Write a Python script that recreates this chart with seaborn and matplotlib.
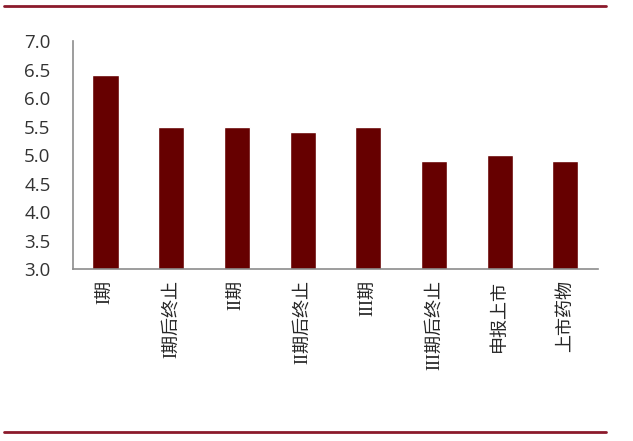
import matplotlib.pyplot as plt
import matplotlib.lines as mlines
import seaborn as sns
import pandas as pd

# Chart data
stages = ['I期', 'I期后终止', 'II期', 'II期后终止', 'III期', 'III期后终止', '申报上市', '上市药物']
values = [6.4, 5.5, 5.5, 5.4, 5.5, 4.9, 5.0, 4.9]
y_ticks = [3.0, 3.5, 4.0, 4.5, 5.0, 5.5, 6.0, 6.5, 7.0]

sns.set_style('white')
plt.rcParams['font.family'] = ['Noto Sans CJK SC', 'DejaVu Sans']

df = pd.DataFrame({'stage': stages, 'value': values})

fig = plt.figure(figsize=(6.33, 4.41), dpi=100)
ax = fig.add_axes([0.115, 0.39, 0.83, 0.517])

sns.barplot(data=df, x='stage', y='value', color='#660000', width=0.4,
            saturation=1, ax=ax)

ax.set_ylim(3.0, 7.0)
ax.set_yticks(y_ticks)
ax.set_yticklabels([f'{v:.1f}' for v in y_ticks], fontsize=13.5, color='#333333',
                   family=['Open Sans', 'DejaVu Sans'])
ax.set_xlim(-0.5, len(stages) - 0.5)
ax.set_xticks(range(len(stages)))
ax.set_xticklabels(stages, rotation=90, fontsize=13, va='top',
                   family=['Liberation Serif', 'Noto Sans CJK SC'])
ax.set_xticks([i - 0.5 for i in range(len(stages) + 1)], minor=True)
ax.tick_params(axis='x', which='major', length=0, pad=8)
ax.tick_params(axis='x', which='minor', length=5, color='#8c8c8c', width=1.2)
ax.tick_params(axis='y', length=0, pad=16)
ax.set_xlabel('')
ax.set_ylabel('')

for side in ['top', 'right']:
    ax.spines[side].set_visible(False)
for side in ['left', 'bottom']:
    ax.spines[side].set_color('#8c8c8c')
    ax.spines[side].set_linewidth(1.2)

# red rules at top and bottom of the figure
fig.add_artist(mlines.Line2D([0.006, 0.957], [0.986, 0.986], color='#8b1a2b', lw=2))
fig.add_artist(mlines.Line2D([0.006, 0.957], [0.02, 0.02], color='#8b1a2b', lw=2))

plt.savefig('out.png', dpi=100)
